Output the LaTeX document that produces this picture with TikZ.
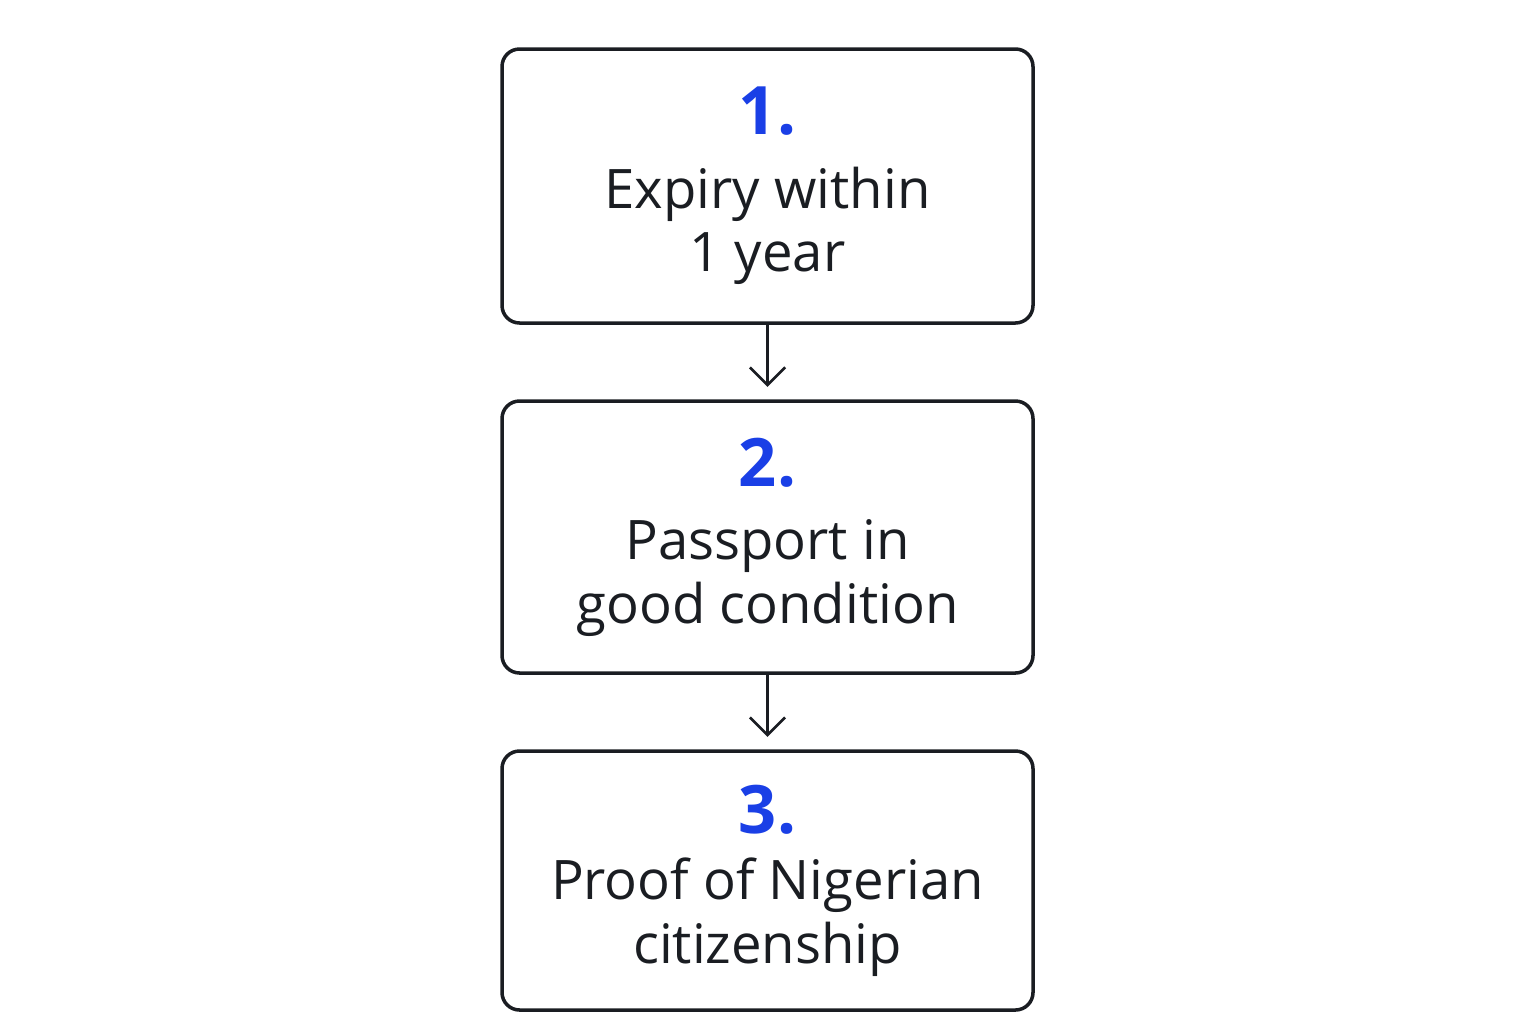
\documentclass[tikz,border=0pt]{standalone}
\usepackage{fontspec}
\setmainfont{Open Sans}
\usetikzlibrary{positioning,arrows.meta}
\definecolor{stepblue}{HTML}{1A3FE6}
\definecolor{inkdark}{HTML}{1A1D22}
\tikzset{
  stepbox/.style={draw=inkdark, line width=1pt, rounded corners=5pt,
    minimum width=5.31cm, align=center, text=inkdark,
    font=\fontsize{15.5}{18}\selectfont},
  steparrow/.style={-{Straight Barb[length=5pt,width=10pt]}, line width=0.75pt, draw=inkdark}
}
\newcommand{\stepnum}[1]{{\fontsize{19}{20}\selectfont\bfseries\color{stepblue}#1}}
\begin{document}
\begin{tikzpicture}
   \useasboundingbox (0,0) rectangle (15.36,-10.24);

   \node[stepbox, minimum height=2.74cm] (first) at (7.675,-1.86)
      {\stepnum{1.}\\[3pt]Expiry within\\1 year};
   \node[stepbox, minimum height=2.72cm] (second) at (7.675,-5.37)
      {\stepnum{2.}\\[3pt]Passport in\\good condition};
   \node[stepbox, minimum height=2.59cm] (third) at (7.675,-8.805)
      {\stepnum{3.}\\[1pt]Proof of Nigerian\\citizenship};

   \draw[steparrow] (first.south) -- ++(0,-0.62);
   \draw[steparrow] (second.south) -- ++(0,-0.62);
\end{tikzpicture}
\end{document}
